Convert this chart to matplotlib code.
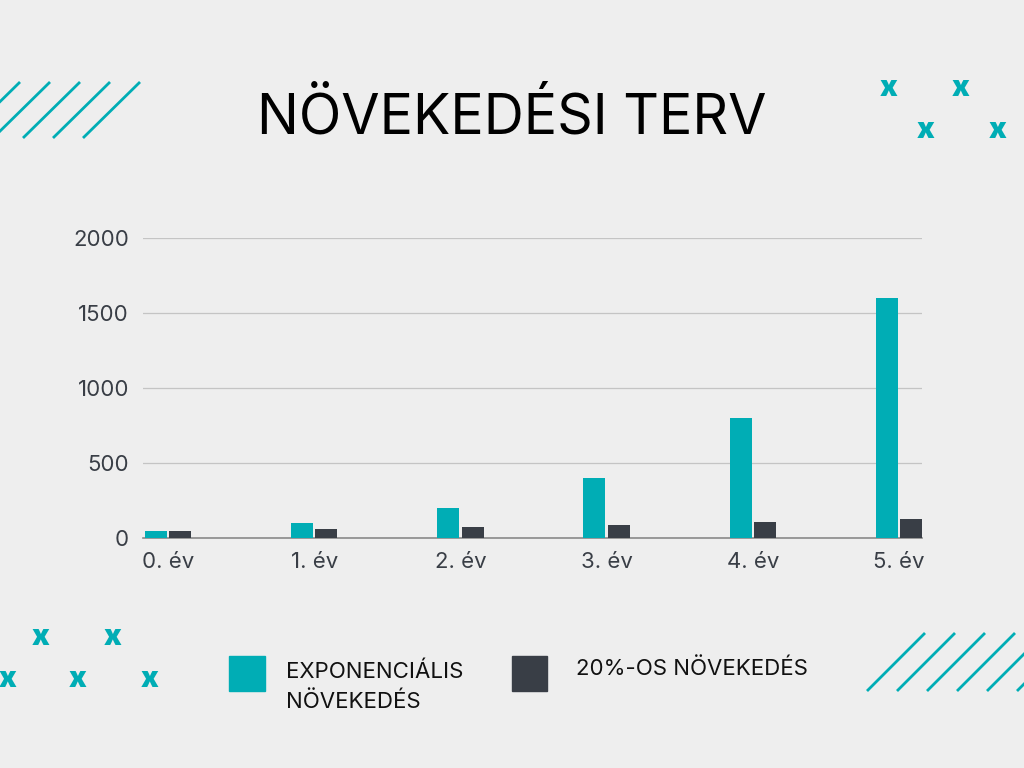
import matplotlib
matplotlib.use("Agg")
import matplotlib.pyplot as plt
from matplotlib.patches import Rectangle
import numpy as np

categories = ["0. év", "1. év", "2. év", "3. év", "4. év", "5. év"]
exp_growth = [50, 100, 200, 400, 800, 1600]
pct_growth = [50, 60, 72, 86.4, 103.7, 124.4]
series_names = ["EXPONENCIÁLIS\nNÖVEKEDÉS", "20%-OS NÖVEKEDÉS"]
yticks = [0, 500, 1000, 1500, 2000]
title = "NÖVEKEDÉSI TERV"

BG = "#eeeeee"
TEAL = "#00adb5"
DARK = "#393e46"
FONT = ["Inter", "DejaVu Sans"]
plt.rcParams["font.family"] = FONT

W, H = 1024, 768
fig = plt.figure(figsize=(W / 100, H / 100), dpi=100, facecolor=BG)

# main axes
left, right, top, bottom = 143, 922, 238, 538
ax = fig.add_axes([left / W, 1 - bottom / H, (right - left) / W, (bottom - top) / H])
ax.set_facecolor(BG)
x = np.arange(len(categories))
bw = 0.15
off = 0.0836
ax.bar(x - off, exp_growth, width=bw, color=TEAL, zorder=3)
ax.bar(x + off, pct_growth, width=bw, color=DARK, zorder=3)
ax.set_xlim(-0.171, 5.157)
ax.set_ylim(0, 2000)
ax.set_yticks(yticks)
ax.set_yticklabels([str(v) for v in yticks])
ax.set_xticks(x)
ax.set_xticklabels(categories)
for s in ["top", "right", "left"]:
    ax.spines[s].set_visible(False)
ax.spines["bottom"].set_color("#8a8a8a")
ax.spines["bottom"].set_linewidth(1.2)
ax.grid(axis="y", color="#c4c4c4", linewidth=0.9, zorder=0)
ax.tick_params(axis="both", length=0, labelsize=16, colors="#393e46")
ax.tick_params(axis="y", pad=10)
ax.tick_params(axis="x", pad=10)

# overlay for decorations
ov = fig.add_axes([0, 0, 1, 1], zorder=5)
ov.set_xlim(0, W)
ov.set_ylim(H, 0)
ov.axis("off")
ov.patch.set_alpha(0)

ov.text(512, 134, title, fontsize=40, ha="center", va="baseline", color="black")

# diagonal lines top-left
for xt in [20, 50, 80, 110, 140]:
    ov.plot([xt - 57, xt], [138, 82], color=TEAL, lw=2.0, solid_capstyle="butt")
# diagonal lines bottom-right
for xb in [867, 897, 927, 957, 987, 1017]:
    ov.plot([xb, xb + 58], [691, 633], color=TEAL, lw=2.0, solid_capstyle="butt")

# x marks
for (xc, yb) in [(889, 96), (961, 96), (926, 138), (998, 138),
                 (41, 645), (113, 645), (8, 687), (78, 687), (150, 687)]:
    ov.text(xc, yb, "x", fontsize=21, fontweight="black", color=TEAL,
            ha="center", va="baseline")

# legend
ov.add_patch(Rectangle((229, 656), 36, 35, color=TEAL))
ov.add_patch(Rectangle((512, 656), 35, 35, color=DARK))
ov.text(286, 708, series_names[0], fontsize=16, ha="left", va="baseline",
        color="#111111", linespacing=1.55)
ov.text(576, 675, series_names[1], fontsize=16, ha="left", va="baseline",
        color="#111111")

fig.savefig("out.png", dpi=100, facecolor=BG)
